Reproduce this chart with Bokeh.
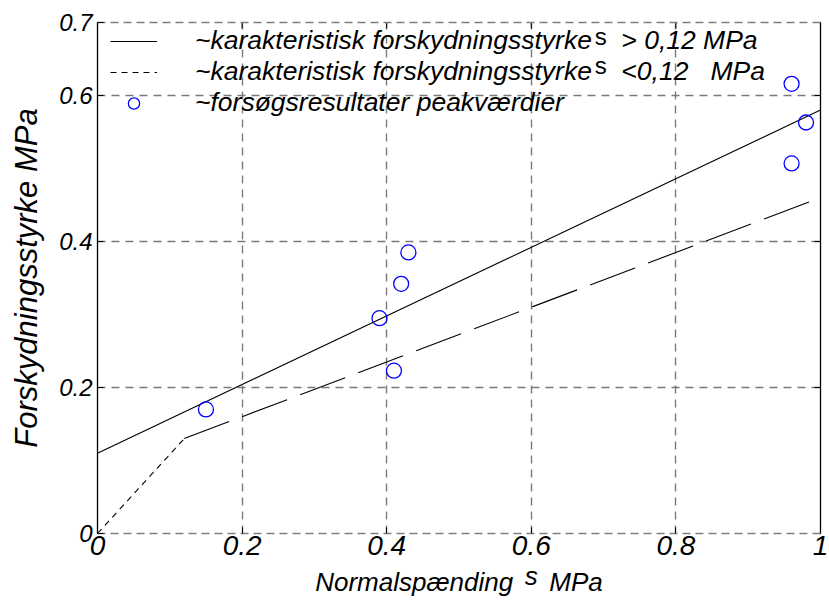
import math
from bokeh.plotting import figure
from bokeh.models import LinearAxis, FixedTicker, Range1d, Legend, LegendItem, Label
from bokeh.embed import file_html
from bokeh.resources import INLINE

# ---- data ----
x_ticks = [0.0, 0.2, 0.4, 0.6, 0.8, 1.0]
x_tick_labels = ["0", "0.2", "0.4", "0.6", "0.8", "1"]
y_ticks = [0.0, 0.2, 0.4, 0.6, 0.7]
y_tick_labels = ["0", "0.2", "0.4", "0.6", "0.7"]
x_min, x_max = 0.0, 1.0
y_min, y_max = 0.0, 0.7

# characteristic shear strength, sigma > 0.12 MPa
char_hi_x = [0.0, 1.0]
char_hi_y = [0.11, 0.58]
# characteristic shear strength, sigma < 0.12 MPa (short dashed part)
char_lo_x = [0.0, 0.12]
char_lo_y = [0.0, 0.13]
# continuation (long dashed)
char_lo_ext_x = [0.12, 1.0]
char_lo_ext_y = [0.13, 0.46]

# test results (peak values)
test_x = [0.15, 0.39, 0.41, 0.42, 0.43, 0.96, 0.98, 0.96]
test_y = [0.17, 0.295, 0.223, 0.342, 0.385, 0.616, 0.563, 0.507]

NB = "\u00a0"
sigma_char = "s"
legend_labels = [
    "~karakteristisk forskydningsstyrke" + NB * 4 + "> 0,12 MPa",
    "~karakteristisk forskydningsstyrke" + NB * 4 + "<0,12" + NB * 3 + "MPa",
    "~forsøgsresultater peakværdier",
]
# two-line label: the raised sigma ("s") sits on the first line
x_label = NB * 20 + sigma_char + "\n" + "Normalspænding" + NB * 5 + "MPa"
y_label = "Forskydningsstyrke MPa"

FONT = "Liberation Sans"
NARROW = "Liberation Sans Narrow, Liberation Sans"

p = figure(width=829, height=600, output_backend="svg", toolbar_location=None,
           x_range=Range1d(x_min, x_max), y_range=Range1d(y_min, y_max),
           x_axis_location=None, y_axis_location=None,
           min_border_left=97, min_border_right=9, min_border_top=22, min_border_bottom=67)
p.outline_line_color = None
p.background_fill_color = "white"


def base_axis(ax):
    ax.major_tick_in = 6
    ax.major_tick_out = 0
    ax.minor_tick_line_color = None
    ax.major_tick_line_color = "black"
    ax.axis_line_width = 1.3


# bottom axis
xb = LinearAxis(ticker=FixedTicker(ticks=x_ticks),
                major_label_overrides=dict(zip(x_ticks, x_tick_labels)))
base_axis(xb)
xb.axis_line_color = "#808080"
xb.axis_line_dash = "8 5"
xb.major_label_text_font = NARROW
xb.major_label_text_font_style = "italic"
xb.major_label_text_font_size = "28px"
xb.major_label_text_color = "black"
xb.major_label_standoff = 2
xb.axis_label = x_label
xb.axis_label_text_font = FONT
xb.axis_label_text_font_style = "italic"
xb.axis_label_text_font_size = "26px"
xb.axis_label_text_color = "black"
xb.axis_label_text_line_height = 0.2
xb.axis_label_standoff = 3
p.add_layout(xb, "below")

# top frame edge (no ticks of its own)
xt = LinearAxis(ticker=FixedTicker(ticks=[]))
base_axis(xt)
xt.axis_line_color = "#808080"
xt.axis_line_dash = "8 5"
p.add_layout(xt, "above")

# left axis
yl = LinearAxis(ticker=FixedTicker(ticks=y_ticks),
                major_label_overrides=dict(zip(y_ticks, y_tick_labels)))
base_axis(yl)
yl.axis_line_color = "black"
yl.major_label_text_font = FONT
yl.major_label_text_font_style = "italic"
yl.major_label_text_font_size = "24px"
yl.major_label_text_color = "black"
yl.major_label_standoff = 5
yl.axis_label = y_label
yl.axis_label_text_font = FONT
yl.axis_label_text_font_style = "italic"
yl.axis_label_text_font_size = "31px"
yl.axis_label_text_color = "black"
yl.axis_label_standoff = 12
p.add_layout(yl, "left")

# right frame edge
yr = LinearAxis(ticker=FixedTicker(ticks=[]))
base_axis(yr)
yr.axis_line_color = "black"
p.add_layout(yr, "right")

p.xgrid.ticker = FixedTicker(ticks=x_ticks)
p.ygrid.ticker = FixedTicker(ticks=y_ticks)
for g in (p.xgrid, p.ygrid):
    g.grid_line_color = "#7a7a7a"
    g.grid_line_dash = "8 6"
    g.grid_line_width = 1.4

# inward tick marks on top and right edges (half of each dash is clipped by the frame)
p.scatter(x_ticks, [y_max] * len(x_ticks), marker="dash", angle=math.pi / 2, size=12,
          line_color="black", line_width=1)
p.scatter([x_max] * len(y_ticks), y_ticks, marker="dash", size=12,
          line_color="black", line_width=1)

r_hi = p.line(char_hi_x, char_hi_y, line_color="black", line_width=1.1)
r_lo = p.line(char_lo_x, char_lo_y, line_color="black", line_width=1.1, line_dash="6 5")
p.line(char_lo_ext_x, char_lo_ext_y, line_color="black", line_width=1.1, line_dash="48 14")
r_pts = p.scatter(test_x, test_y, marker="circle", size=15, fill_color=None,
                  line_color="#0000ff", line_width=1.3)

legend = Legend(items=[
    LegendItem(label=legend_labels[0], renderers=[r_hi]),
    LegendItem(label=legend_labels[1], renderers=[r_lo]),
    LegendItem(label=legend_labels[2], renderers=[r_pts]),
], location=(13, 415))
legend.border_line_color = None
legend.background_fill_alpha = 0
legend.padding = 0
legend.margin = 0
legend.spacing = 0
legend.glyph_width = 47
legend.glyph_height = 28
legend.label_height = 28
legend.label_standoff = 38
legend.label_text_font = FONT
legend.label_text_font_style = "italic"
legend.label_text_font_size = "26.5px"
legend.label_text_color = "black"
p.add_layout(legend, "center")

# raised sigma characters in the legend (rendered as 's' in the original)
for sx, sy in [(0.696, 0.681), (0.696, 0.641)]:
    p.add_layout(Label(x=sx, y=sy, text=sigma_char, text_font=FONT, text_font_size="24px",
                       text_align="center", text_baseline="middle", text_color="black"))

open("out.html", "w").write(file_html(p, INLINE))
